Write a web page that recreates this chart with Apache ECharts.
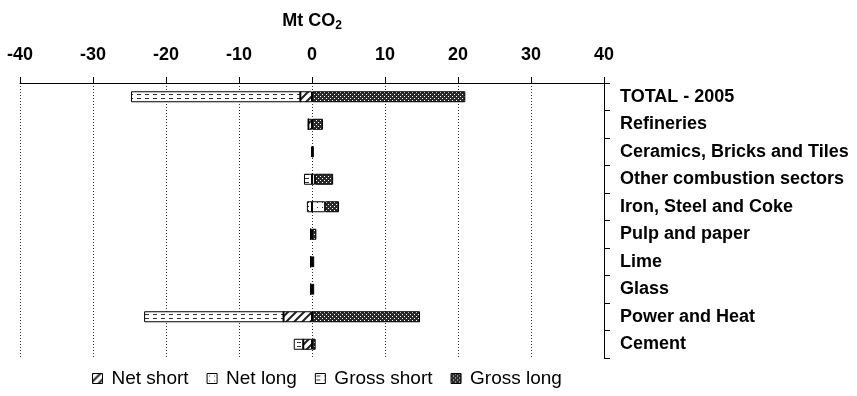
<!DOCTYPE html>
<html>
<head>
<meta charset="utf-8">
<script src="https://cdn.jsdelivr.net/npm/echarts@6/dist/echarts.min.js"></script>
<style>
  html, body { margin: 0; padding: 0; background: #fff; }
  #chart { width: 857px; height: 396px; }
</style>
</head>
<body>
<div id="chart"></div>
<script>
const categories = ['TOTAL - 2005', 'Refineries', 'Ceramics, Bricks and Tiles', 'Other combustion sectors',
  'Iron, Steel and Coke', 'Pulp and paper', 'Lime', 'Glass', 'Power and Heat', 'Cement'];

const netShort   = [-1.6, -0.5, -0.1, 0,    0,    -0.2, -0.2, -0.2, -3.9, -1.2];
const netLong    = [0,    0,    0.1,  0.4,  1.8,  0,    0,    0,    0,    0];
const grossShort = [-23.2, 0,   0,    -1.1, -0.7, 0,    0,    0,    -19.1, -1.3];
const grossLong  = [21.0, 1.5,  0.1,  2.5,  1.9,  0.6,  0.3,  0.3,  14.8, 0.5];

const xTicks = { min: -40, max: 40, step: 10 };

// small canvas patterns to mimic the hatched fills
const makePattern = (w, h, draw) => {
  const c = document.createElement('canvas');
  c.width = w; c.height = h;
  const ctx = c.getContext('2d');
  ctx.fillStyle = '#fff';
  ctx.fillRect(0, 0, w, h);
  draw(ctx);
  return { image: c, repeat: 'repeat' };
};

const hatchPattern = makePattern(8, 8, ctx => {
  ctx.strokeStyle = '#222';
  ctx.lineWidth = 2;
  ctx.beginPath();
  ctx.moveTo(-2, 10); ctx.lineTo(10, -2);
  ctx.moveTo(-6, 6); ctx.lineTo(6, -6);
  ctx.moveTo(2, 14); ctx.lineTo(14, 2);
  ctx.stroke();
});

const dotPattern = makePattern(5, 5, ctx => {
  ctx.fillStyle = '#444';
  ctx.fillRect(2, 2, 1, 1);
});

const dashPattern = makePattern(8, 4, ctx => {
  ctx.fillStyle = '#333';
  ctx.fillRect(1, 2, 4, 1);
});

const checkPattern = makePattern(4, 4, ctx => {
  ctx.fillStyle = '#2a2a2a';
  ctx.fillRect(0, 0, 4, 4);
  ctx.fillStyle = '#fff';
  ctx.fillRect(0, 0, 1, 1);
  ctx.fillRect(2, 2, 1, 1);
});

const chart = echarts.init(document.getElementById('chart'));

const mkSeries = (name, data, pattern) => ({
  name,
  type: 'bar',
  stack: 'total',
  barWidth: 11,
  data,
  itemStyle: { color: pattern, borderColor: '#000', borderWidth: 1 },
  emphasis: { disabled: true }
});

const option = {
  animation: false,
  backgroundColor: '#fff',
  textStyle: { fontFamily: 'Liberation Sans, Arial, sans-serif', color: '#000' },
  grid: { left: 20, right: 253, top: 83, bottom: 38 },
  legend: {
    left: 87,
    bottom: 3,
    itemWidth: 10,
    itemHeight: 10,
    itemGap: 18,
    icon: 'rect',
    textStyle: { fontSize: 19, color: '#000', padding: [0, 0, 0, 4], fontFamily: 'Liberation Sans, Arial, sans-serif' },
    itemStyle: { borderColor: '#000', borderWidth: 1 },
    data: ['Net short', 'Net long', 'Gross short', 'Gross long']
  },
  xAxis: {
    type: 'value',
    position: 'top',
    min: xTicks.min,
    max: xTicks.max,
    interval: xTicks.step,
    name: '{a|Mt CO}{b|2}',
    nameLocation: 'middle',
    nameGap: 51,
    nameTextStyle: {
      rich: {
        a: { fontSize: 18, fontWeight: 'bold', color: '#000' },
        b: { fontSize: 12, fontWeight: 'bold', color: '#000', verticalAlign: 'bottom', padding: [10, 0, 0, 0] }
      }
    },
    axisLine: { show: true, lineStyle: { color: '#000', width: 1 } },
    axisTick: { show: true, length: 6, lineStyle: { color: '#000' } },
    axisLabel: { fontSize: 18, fontWeight: 'bold', color: '#000', margin: 19 },
    splitLine: { show: true, lineStyle: { color: '#333', type: [1, 2], width: 1 } }
  },
  yAxis: {
    type: 'category',
    position: 'right',
    inverse: true,
    data: categories,
    axisLine: { show: true, onZero: false, lineStyle: { color: '#000', width: 1 } },
    axisTick: { show: true, length: 6, lineStyle: { color: '#000' } },
    axisLabel: { fontSize: 18, fontWeight: 'bold', color: '#000', margin: 16 },
    splitLine: { show: false }
  },
  series: [
    mkSeries('Net short', netShort, hatchPattern),
    mkSeries('Net long', netLong, dotPattern),
    mkSeries('Gross short', grossShort, dashPattern),
    mkSeries('Gross long', grossLong, checkPattern)
  ]
};

chart.setOption(option);
</script>
</body>
</html>
